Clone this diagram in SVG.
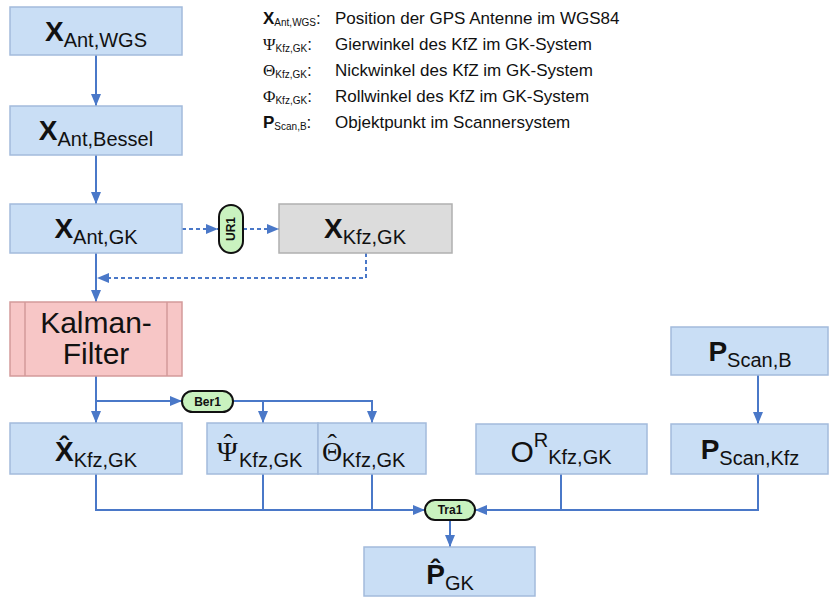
<svg xmlns="http://www.w3.org/2000/svg" width="831" height="599" viewBox="0 0 831 599">
<style>
text{font-family:"Liberation Sans",Arial,sans-serif;fill:#111}
.box{fill:#c9def5;stroke:#a3bbdb;stroke-width:1.5}
.gray{fill:#dcdcdc;stroke:#b0b0b0;stroke-width:1.5}
.kal{fill:#f7c6c6;stroke:#d39a9a;stroke-width:1.5}
.pill{fill:#c9f2bf;stroke:#111;stroke-width:2}
.pt{font-size:12px;font-weight:bold;text-anchor:middle}
.big{font-size:28px;font-weight:bold}
.sub{font-size:20px}
.lbl{text-anchor:middle}
.greek{font-family:"Liberation Serif","DejaVu Serif",serif;font-size:28px}
.c{fill:none;stroke:#4a78c8;stroke-width:2}
.d{fill:none;stroke:#4a78c8;stroke-width:2;stroke-dasharray:4 3}
.leg{font-size:17px}
.ls{font-size:10px}
</style>
<defs>
<marker id="ah" markerUnits="userSpaceOnUse" markerWidth="12" markerHeight="10" refX="12" refY="5" orient="auto">
<path d="M0,0 L12,5 L0,10 z" fill="#4a78c8"/>
</marker>
</defs>
<rect width="831" height="599" fill="#fff"/>

<g id="legend">
<text class="leg" x="263" y="24"><tspan font-weight="bold">X</tspan><tspan class="ls" dy="2">Ant,WGS</tspan><tspan dy="-2">:</tspan></text>
<text class="leg" x="335" y="24">Position der GPS Antenne im WGS84</text>
<text class="leg" x="263" y="50"><tspan font-family="Liberation Serif,serif">Ψ</tspan><tspan class="ls" dy="2">Kfz,GK</tspan><tspan dy="-2">:</tspan></text>
<text class="leg" x="335" y="50">Gierwinkel des KfZ im GK-System</text>
<text class="leg" x="263" y="76"><tspan font-family="Liberation Serif,serif">Θ</tspan><tspan class="ls" dy="2">Kfz,GK</tspan><tspan dy="-2">:</tspan></text>
<text class="leg" x="335" y="76">Nickwinkel des KfZ im GK-System</text>
<text class="leg" x="263" y="102"><tspan font-family="Liberation Serif,serif">Φ</tspan><tspan class="ls" dy="2">Kfz,GK</tspan><tspan dy="-2">:</tspan></text>
<text class="leg" x="335" y="102">Rollwinkel des KfZ im GK-System</text>
<text class="leg" x="263" y="128"><tspan font-weight="bold">P</tspan><tspan class="ls" dy="2">Scan,B</tspan><tspan dy="-2">:</tspan></text>
<text class="leg" x="335" y="128">Objektpunkt im Scannersystem</text>
</g>

<g id="connectors">
<line class="c" x1="96" y1="55" x2="96" y2="106" marker-end="url(#ah)"/>
<line class="c" x1="96" y1="155" x2="96" y2="204" marker-end="url(#ah)"/>
<line class="c" x1="96" y1="253" x2="96" y2="302" marker-end="url(#ah)"/>
<line class="d" x1="182" y1="229" x2="218" y2="229" marker-end="url(#ah)"/>
<line class="d" x1="243" y1="229" x2="279" y2="229" marker-end="url(#ah)"/>
<polyline class="d" points="366,253 366,278 97,278" marker-end="url(#ah)"/>
<line class="c" x1="96" y1="376" x2="96" y2="423" marker-end="url(#ah)"/>
<line class="c" x1="96" y1="401" x2="182" y2="401" marker-end="url(#ah)"/>
<polyline class="c" points="233,401 372,401 372,423" marker-end="url(#ah)"/>
<line class="c" x1="263" y1="401" x2="263" y2="423" marker-end="url(#ah)"/>
<polyline class="c" points="96,474 96,510 425,510" marker-end="url(#ah)"/>
<line class="c" x1="263" y1="474" x2="263" y2="510"/>
<line class="c" x1="372" y1="474" x2="372" y2="510"/>
<line class="c" x1="758" y1="375" x2="758" y2="424" marker-end="url(#ah)"/>
<polyline class="c" points="758,474 758,510 475,510" marker-end="url(#ah)"/>
<line class="c" x1="561" y1="474" x2="561" y2="510"/>
<line class="c" x1="450" y1="520" x2="450" y2="547" marker-end="url(#ah)"/>
</g>

<g id="n_xantwgs">
<rect class="box" x="10" y="7" width="172" height="48"/>
<text class="lbl" x="96" y="41"><tspan class="big">X</tspan><tspan class="sub" dy="6">Ant,WGS</tspan></text>
</g>
<g id="n_xantbessel">
<rect class="box" x="10" y="106" width="172" height="49"/>
<text class="lbl" x="96" y="140"><tspan class="big">X</tspan><tspan class="sub" dy="6">Ant,Bessel</tspan></text>
</g>
<g id="n_xantgk">
<rect class="box" x="10" y="204" width="172" height="49"/>
<text class="lbl" x="96" y="238"><tspan class="big">X</tspan><tspan class="sub" dy="6">Ant,GK</tspan></text>
</g>
<g id="n_ur1">
<rect class="pill" x="219" y="205" width="24" height="48" rx="12"/>
<text class="pt" transform="translate(231,229) rotate(-90)" y="4" font-size="11">UR1</text>
</g>
<g id="n_xkfzgk">
<rect class="gray" x="279" y="204" width="173" height="49"/>
<text class="lbl" x="365" y="238"><tspan class="big">X</tspan><tspan class="sub" dy="6">Kfz,GK</tspan></text>
</g>
<g id="n_kalman">
<rect class="kal" x="10" y="302" width="172" height="74"/>
<line x1="25" y1="302" x2="25" y2="376" stroke="#d39a9a" stroke-width="1.5"/>
<line x1="167" y1="302" x2="167" y2="376" stroke="#d39a9a" stroke-width="1.5"/>
<text class="lbl" x="96" y="333" font-size="30">Kalman-</text>
<text class="lbl" x="96" y="364" font-size="30">Filter</text>
</g>
<g id="n_ber1">
<rect class="pill" x="182" y="391" width="51" height="21" rx="10.5"/>
<text class="pt" x="207.5" y="406">Ber1</text>
</g>
<g id="n_xhat">
<rect class="box" x="10" y="423" width="172" height="51"/>
<text class="lbl" x="96" y="461"><tspan class="big">X̂</tspan><tspan class="sub" dy="6">Kfz,GK</tspan></text>
</g>
<g id="n_psi">
<rect class="box" x="207" y="423" width="111" height="51"/>
<text class="greek" x="217 223.5" y="461 453">Ψˆ<tspan class="sub" x="239" y="467" font-family="Liberation Sans,sans-serif">Kfz,GK</tspan></text>
</g>
<g id="n_theta">
<rect class="box" x="318" y="423" width="108" height="51"/>
<text class="greek" x="322 327.5" y="461 453">Θˆ<tspan class="sub" x="342" y="467" font-family="Liberation Sans,sans-serif">Kfz,GK</tspan></text>
</g>
<g id="n_or">
<rect class="box" x="476" y="424" width="171" height="50"/>
<text class="lbl" x="561" y="462"><tspan font-size="30">O</tspan><tspan class="sub" dy="-15">R</tspan><tspan class="sub" dy="17">Kfz,GK</tspan></text>
</g>
<g id="n_pscanb">
<rect class="box" x="671" y="327" width="157" height="48"/>
<text class="lbl" x="750" y="361"><tspan class="big">P</tspan><tspan class="sub" dy="6">Scan,B</tspan></text>
</g>
<g id="n_pscankfz">
<rect class="box" x="671" y="424" width="157" height="50"/>
<text class="lbl" x="750" y="459"><tspan class="big">P</tspan><tspan class="sub" dy="6">Scan,Kfz</tspan></text>
</g>
<g id="n_tra1">
<rect class="pill" x="425" y="500" width="50" height="20" rx="10"/>
<text class="pt" x="450" y="514">Tra1</text>
</g>
<g id="n_phat">
<rect class="box" x="364" y="547" width="171" height="49"/>
<text class="lbl" x="450" y="584"><tspan class="big">P̂</tspan><tspan class="sub" dy="6">GK</tspan></text>
</g>
</svg>
